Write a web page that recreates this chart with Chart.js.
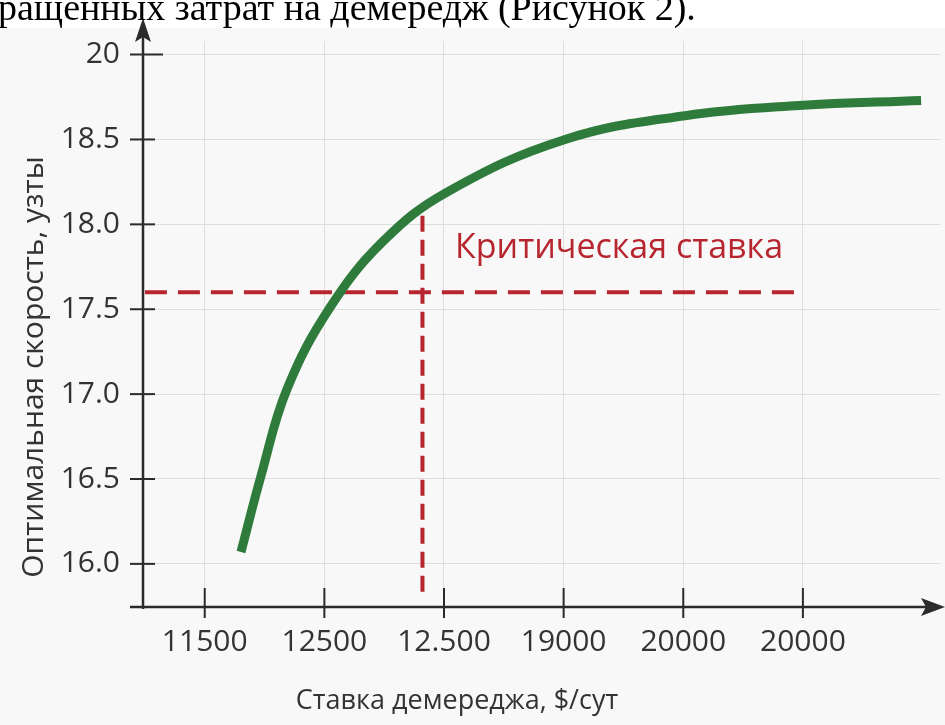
<!DOCTYPE html>
<html>
<head>
<meta charset="utf-8">
<script src="https://cdn.jsdelivr.net/npm/chart.js@4.4.1/dist/chart.umd.min.js"></script>
<style>
html,body{margin:0;padding:0;background:#fff;}
#wrap{position:relative;width:945px;height:725px;overflow:hidden;background:#fff;}
canvas{position:absolute;left:0;top:0;}
#cap{position:absolute;left:-2px;top:-13px;font-family:'Liberation Serif','Times New Roman',serif;font-size:38px;line-height:40px;color:#000;white-space:nowrap;}
</style>
</head>
<body>
<div id="wrap">
<canvas id="c" width="945" height="725"></canvas>
<div id="cap">ращенных затрат на демередж (Рисунок 2).</div>
</div>
<script>
// ---- data ----
const xTickLabels = ['11500', '12500', '12.500', '19000', '20000', '20000'];
const yTickValues = [16.0, 16.5, 17.0, 17.5, 18.0, 18.5, 19.0];
const yTickLabels = ['16.0', '16.5', '17.0', '17.5', '18.0', '18.5', '20'];
const curveX = [0.303, 0.471, 0.688, 1.047, 1.491, 2.026, 3.012, 4.015, 4.968, 5.988];
const curveY = [16.07, 16.52, 17.03, 17.51, 17.90, 18.19, 18.50, 18.64, 18.70, 18.73];
const criticalSpeed = 17.6;
const criticalSpeedX = [-0.5, 4.93];
const criticalRateX = 1.82;
const criticalRateY = [18.05, 15.79];
const annotationText = 'Критическая ставка';
const annotationPos = [2.092, 17.80];
const xTitle = 'Ставка демереджа, $/сут';
const yTitle = 'Оптимальная скорость, узты';

// ---- styles ----
const GREEN = '#2e7b3b';
const RED = '#b7262f';
const AXIS = '#2b2b2b';
const GRID = '#dedede';
const FONT = "'Open Sans', 'Noto Sans', sans-serif";
const TEXT = '#333333';

const curveData = curveX.map((x, i) => ({x: x, y: curveY[i]}));
const hLineData = criticalSpeedX.map(x => ({x: x, y: criticalSpeed}));
const vLineData = criticalRateY.map(y => ({x: criticalRateX, y: y}));

const decor = {
  id: 'decor',
  beforeDraw(chart) {
    const ctx = chart.ctx;
    ctx.save();
    ctx.fillStyle = '#f8f8f8';
    ctx.fillRect(0, 28, chart.width, chart.height - 28);
    ctx.restore();
  },
  beforeDatasetsDraw(chart) {
    const ctx = chart.ctx;
    const xs = chart.scales.x, ys = chart.scales.y;
    const ca = chart.chartArea;
    const ax = ca.left, ay = ca.bottom;
    ctx.save();
    ctx.strokeStyle = AXIS;
    ctx.fillStyle = AXIS;
    ctx.lineWidth = 2.5;
    // y axis with arrow
    ctx.beginPath();
    ctx.moveTo(ax, ay + 2);
    ctx.lineTo(ax, 30);
    ctx.stroke();
    ctx.beginPath();
    ctx.moveTo(ax, 18);
    ctx.lineTo(ax - 8, 42);
    ctx.lineTo(ax, 37);
    ctx.lineTo(ax + 8, 42);
    ctx.closePath();
    ctx.fill();
    // x axis with arrow
    ctx.beginPath();
    ctx.moveTo(ax - 13, ay);
    ctx.lineTo(935, ay);
    ctx.stroke();
    ctx.beginPath();
    ctx.moveTo(945, ay);
    ctx.lineTo(921, ay - 9);
    ctx.lineTo(926, ay);
    ctx.lineTo(921, ay + 9);
    ctx.closePath();
    ctx.fill();
    // tick marks crossing the axes
    ctx.lineWidth = 2;
    yTickValues.forEach((v, i) => {
      const p = ys.getPixelForValue(v);
      const ext = (i === yTickValues.length - 1) ? 20 : 12;
      ctx.beginPath();
      ctx.moveTo(ax - 13, p);
      ctx.lineTo(ax + ext, p);
      ctx.stroke();
    });
    xTickLabels.forEach((_, i) => {
      const p = xs.getPixelForValue(i);
      ctx.beginPath();
      ctx.moveTo(p, ay - 19);
      ctx.lineTo(p, ay + 11);
      ctx.stroke();
    });
    ctx.restore();
  },
  afterDraw(chart) {
    const ctx = chart.ctx;
    const xs = chart.scales.x, ys = chart.scales.y;
    ctx.save();
    // annotation
    ctx.fillStyle = RED;
    ctx.font = '34px ' + FONT;
    ctx.textAlign = 'left';
    ctx.textBaseline = 'alphabetic';
    ctx.fillText(annotationText, xs.getPixelForValue(annotationPos[0]), ys.getPixelForValue(annotationPos[1]));
    // axis titles
    ctx.fillStyle = TEXT;
    ctx.textAlign = 'center';
    ctx.font = '27px ' + FONT;
    ctx.fillText(xTitle, 457, 709);
    ctx.font = '30px ' + FONT;
    ctx.translate(43, 367);
    ctx.rotate(-Math.PI / 2);
    ctx.fillText(yTitle, 0, 0);
    ctx.restore();
  }
};

new Chart(document.getElementById('c'), {
  type: 'line',
  data: {
    datasets: [
      {data: curveData, borderColor: GREEN, borderWidth: 9, pointRadius: 0, tension: 0.4, borderCapStyle: 'butt', fill: false},
      {data: hLineData, borderColor: RED, borderWidth: 4, borderDash: [22, 11], pointRadius: 0, fill: false},
      {data: vLineData, borderColor: RED, borderWidth: 4, borderDash: [16, 8], pointRadius: 0, fill: false}
    ]
  },
  options: {
    responsive: false,
    animation: false,
    devicePixelRatio: 1,
    layout: {padding: {top: 40, right: 5, left: 0, bottom: 0}},
    plugins: {legend: {display: false}, tooltip: {enabled: false}},
    scales: {
      x: {
        type: 'linear',
        min: -0.516,
        max: 6.146,
        afterBuildTicks: s => { s.ticks = xTickLabels.map((_, i) => ({value: i})); },
        afterFit: s => { s.height = 118; },
        grid: {color: GRID, lineWidth: 1, drawTicks: false},
        border: {display: false},
        ticks: {
          autoSkip: false,
          maxRotation: 0,
          padding: 17,
          color: TEXT,
          font: {family: FONT, size: 30},
          callback: v => xTickLabels[Math.round(v)]
        }
      },
      y: {
        type: 'linear',
        min: 15.746,
        max: 19.08,
        afterBuildTicks: s => { s.ticks = yTickValues.map(v => ({value: v})); },
        afterFit: s => { s.width = 143; },
        grid: {color: GRID, lineWidth: 1, drawTicks: false},
        border: {display: false},
        ticks: {
          padding: 23,
          color: TEXT,
          font: {family: FONT, size: 30},
          callback: v => yTickLabels[yTickValues.indexOf(v)]
        }
      }
    }
  },
  plugins: [decor]
});
</script>
</body>
</html>
